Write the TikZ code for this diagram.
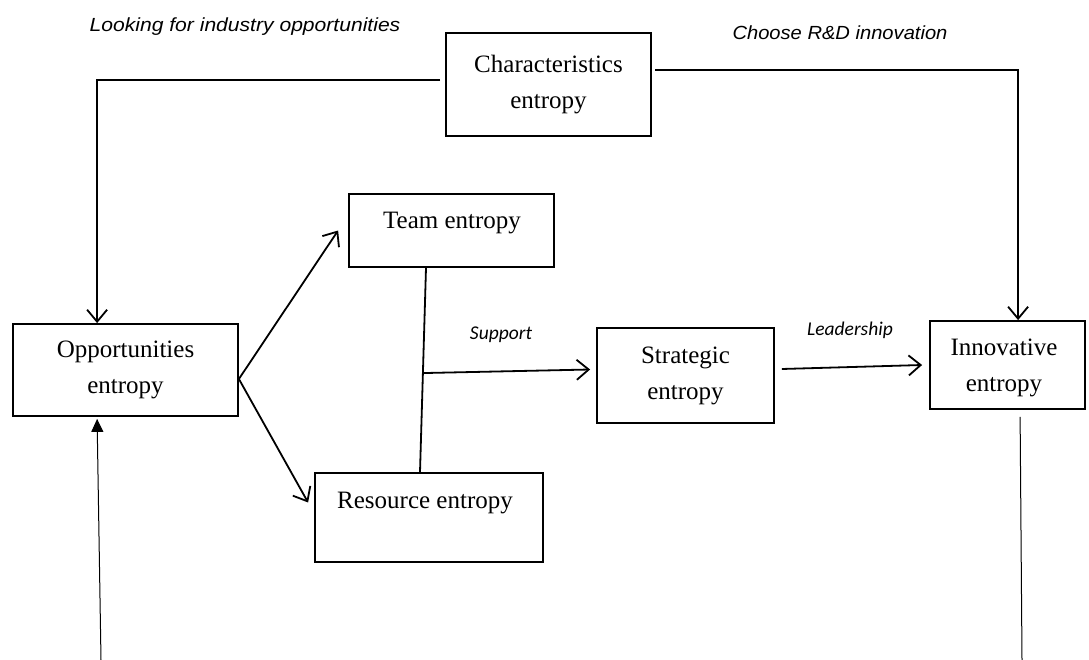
\documentclass[tikz,border=0pt]{standalone}
\usepackage{fontspec}
\usepackage{graphicx}
\setmainfont{Liberation Serif}
\newfontfamily\labfont{Liberation Sans}
\newfontfamily\calfont{Carlito}
\usetikzlibrary{arrows.meta,calc}
\begin{document}
\begin{tikzpicture}[x=1pt,y=-1pt,
  box/.style={draw,line width=1.8pt,inner sep=0pt,align=center,
    font=\fontsize{25}{36}\selectfont},
  boxtext/.style={inner sep=0pt,font=\fontsize{25}{36}\selectfont},
  conn/.style={line width=1.8pt},
  arr/.style={line width=1.8pt,-{Straight Barb[length=12pt,width=20pt,line width=1.8pt]}},
  thin/.style={line width=1pt},
  toplab/.style={inner sep=0pt,anchor=base,font=\labfont\itshape\fontsize{19}{23}\selectfont},
  midlab/.style={inner sep=0pt,anchor=base,font=\calfont\itshape\fontsize{19.5}{23}\selectfont}]
\useasboundingbox (0,0) rectangle (1089,660);

% boxes
\node[box,minimum width=205pt,minimum height=103pt] (char) at (548.5,84.5) {\raisebox{4pt}{\parbox{200pt}{\centering Characteristics\\entropy}}};
\node[box,minimum width=225pt,minimum height=92pt] (opp) at (125.5,370) {Opportunities\\entropy};
\node[box,minimum width=205pt,minimum height=73pt] (team) at (451.5,230.5) {};
\node[boxtext] (teamtxt) at (452,223) {Team entropy};
\node[box,minimum width=228pt,minimum height=89pt] (res) at (429,517.5) {};
\node[boxtext] (restxt) at (425,503) {Resource entropy};
\node[box,minimum width=177pt,minimum height=95pt] (strat) at (685.5,375.5) {Strategic\\entropy};
\node[box,minimum width=155pt,minimum height=88pt] (innov) at (1007.5,365) {};
\node[boxtext,align=center] (innovtxt) at (1004,367.5) {Innovative\\entropy};

% labels
\node[toplab] (l1) at (245,31.7) {\scalebox{1.11}[1]{Looking for industry opportunities}};
\node[toplab] (l2) at (840,40) {\scalebox{1.06}[1]{Choose R\&D innovation}};
\node[midlab] (l3) at (501,339) {Support};
\node[midlab] (l4) at (850,335) {Leadership};

% free ends
\coordinate (cl) at (440,80);
\coordinate (cr) at (655,70);
\coordinate (bl) at (101,660);
\coordinate (br) at (1022,660);
\coordinate (t1) at ([xshift=-25.5pt]team.south);
\coordinate (r1) at ([xshift=-9pt]res.north);
\coordinate (mid) at ($(t1)!0.515!(r1)$);

% connectors
\draw[arr] (cl) -| ([xshift=85pt]opp.north west);
\draw[arr] (cr) -| ([xshift=89pt]innov.north west);
\draw[arr] ([yshift=-9pt]opp.east) -- ([xshift=-10pt]team.west);
\draw[arr] ([yshift=-9pt]opp.east) -- ([xshift=-6pt,yshift=15pt]res.west);
\draw[conn] (t1) -- (r1);
\draw[arr] (mid) -- ([xshift=-6pt,yshift=6pt]strat.west);
\draw[arr] ([xshift=7pt,yshift=6.5pt]strat.east) -- ([xshift=-7pt]innov.west);
\draw[thin,-{Triangle[length=13pt,width=12pt]}] (bl) -- ([xshift=85pt,yshift=-2pt]opp.south west);
\draw[thin] ([xshift=91pt,yshift=-7pt]innov.south west) -- (br);
\end{tikzpicture}
\end{document}
